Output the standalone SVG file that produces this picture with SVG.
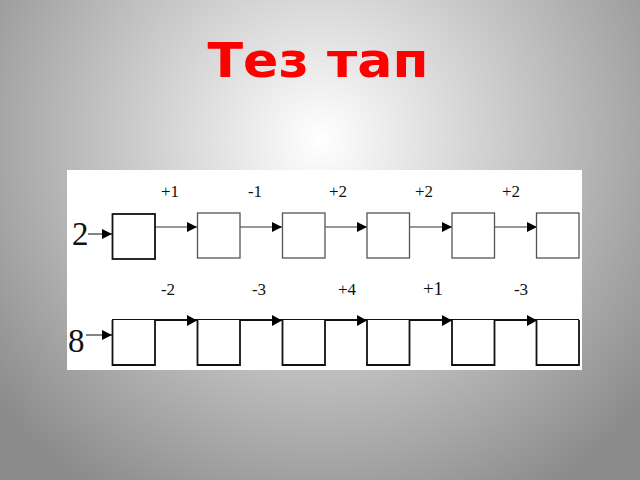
<svg xmlns="http://www.w3.org/2000/svg" width="640" height="480" viewBox="0 0 640 480">
<defs>
<radialGradient id="bg" cx="320" cy="140" r="420" gradientUnits="userSpaceOnUse">
<stop offset="0" stop-color="#ffffff"/>
<stop offset="0.35" stop-color="#d6d6d6"/>
<stop offset="1" stop-color="#8a8a8a"/>
</radialGradient>
<marker id="ah" viewBox="0 0 10 10" refX="10" refY="5" markerWidth="10" markerHeight="10" markerUnits="userSpaceOnUse" orient="auto">
<path d="M0,0 L10,5 L0,10 Z" fill="#000"/>
</marker>
<style>
.box{fill:#fff;stroke:#555;stroke-width:1.3}
.box2{fill:#fff;stroke:#111;stroke-width:1.8}
.ln{stroke:#333;stroke-width:1.2;fill:none}
.lb{font-family:"Liberation Serif",serif;font-size:17px;fill:#111;text-anchor:middle}
.big{font-family:"Liberation Serif",serif;font-size:33px;fill:#111}
</style>
</defs>
<rect width="640" height="480" fill="url(#bg)"/>
<text x="318" y="77" font-family="DejaVu Sans, sans-serif" font-weight="bold" font-size="48" fill="#ff0000" text-anchor="middle" textLength="221" lengthAdjust="spacingAndGlyphs">Тез тап</text>
<rect x="67" y="170" width="515" height="200" fill="#fff"/>

<g id="labels">
<text class="big" x="72" y="245">2</text>
<text class="big" x="68" y="352">8</text>
<text class="lb" x="170" y="197">+1</text>
<text class="lb" x="255" y="197">-1</text>
<text class="lb" x="338" y="197">+2</text>
<text class="lb" x="424" y="197">+2</text>
<text class="lb" x="511" y="197">+2</text>
<text class="lb" x="168" y="295">-2</text>
<text class="lb" x="259" y="295">-3</text>
<text class="lb" x="347" y="295">+4</text>
<text class="lb" x="433" y="295" style="font-size:19px">+1</text>
<text class="lb" x="521" y="295">-3</text>
</g>

<g id="connectors">
<line class="ln" x1="88" y1="234" x2="112" y2="234" marker-end="url(#ah)"/>
<line class="ln" x1="155" y1="227" x2="197" y2="227" marker-end="url(#ah)"/>
<line class="ln" x1="240" y1="227" x2="282" y2="227" marker-end="url(#ah)"/>
<line class="ln" x1="325" y1="227" x2="367" y2="227" marker-end="url(#ah)"/>
<line class="ln" x1="409" y1="227" x2="452" y2="227" marker-end="url(#ah)"/>
<line class="ln" x1="494" y1="227" x2="537" y2="227" marker-end="url(#ah)"/>
<line class="ln" x1="86" y1="335" x2="112" y2="335" marker-end="url(#ah)"/>
<line x1="112" y1="320" x2="579" y2="320" stroke="#111" stroke-width="2"/>
<path d="M187,315 L197,320.5 L187,326 Z M272,315 L282,320.5 L272,326 Z M357,315 L367,320.5 L357,326 Z M442,315 L452,320.5 L442,326 Z M527,315 L537,320.5 L527,326 Z" fill="#000"/>
</g>

<g id="row1">
<rect id="a1" class="box2" x="112.5" y="214" width="42.5" height="45"/>
<rect id="a2" class="box" x="197.5" y="213" width="42.5" height="45"/>
<rect id="a3" class="box" x="282.5" y="213" width="42.5" height="45"/>
<rect id="a4" class="box" x="367" y="213" width="42.5" height="45"/>
<rect id="a5" class="box" x="452" y="213" width="42.5" height="45"/>
<rect id="a6" class="box" x="536.5" y="213" width="42.5" height="45"/>
</g>
<g id="row2">
<path id="b1" class="box2" d="M112.5,320 V365 H155 V320" />
<path id="b2" class="box2" d="M197.5,320 V365 H240 V320" />
<path id="b3" class="box2" d="M282.5,320 V365 H325 V320" />
<path id="b4" class="box2" d="M367,320 V365 H409.5 V320" />
<path id="b5" class="box2" d="M452,320 V365 H494.5 V320" />
<path id="b6" class="box2" d="M536.5,320 V365 H579 V320" />
</g>
</svg>
